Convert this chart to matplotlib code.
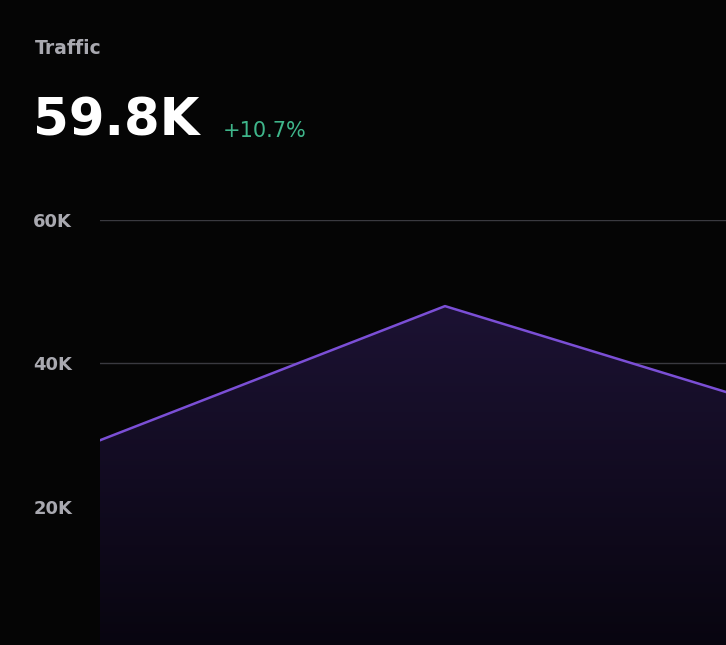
import matplotlib.pyplot as plt
import numpy as np
from matplotlib.patches import Polygon
from matplotlib.colors import LinearSegmentedColormap

x = [0, 1, 2]
traffic = [29300, 48000, 33300]
yticks = [0, 20000, 40000, 60000]
ytick_labels = ["0", "20K", "40K", "60K"]

W, H = 726, 645
fig = plt.figure(figsize=(W / 100, H / 100), dpi=100)
fig.patch.set_facecolor("#050505")

ax = fig.add_axes([100 / W, -5.5 / H, 690 / W, 430.5 / H])
ax.set_facecolor("#050505")
ax.set_xlim(0, 2)
ax.set_ylim(0, 60000)
ax.set_yticks(yticks)
ax.set_yticklabels(ytick_labels, color="#a9a9b0", fontsize=13, fontweight="semibold")
ax.tick_params(axis="y", length=0, pad=20)
ax.set_xticks([])
for s in ax.spines.values():
    s.set_visible(False)
ax.grid(axis="y", color="#3a3a40", linewidth=1)
ax.set_axisbelow(True)

# gradient fill under the line
grad = np.linspace(0, 1, 256).reshape(-1, 1)
cmap = LinearSegmentedColormap.from_list("g", ["#08050f", "#1c1233"])
im = ax.imshow(grad, extent=[0, 2, 0, 48000], origin="lower", aspect="auto",
               cmap=cmap, zorder=1)
poly = Polygon(list(zip(x, traffic)) + [(2, 0), (0, 0)], closed=True,
               facecolor="none", edgecolor="none")
ax.add_patch(poly)
im.set_clip_path(poly)
ax.plot(x, traffic, color="#7b4fd6", linewidth=1.8, zorder=3)

fig.text(35 / W, 1 - 48 / H, "Traffic", color="#a9a9b0", fontsize=13.5, va="center",
         fontweight="semibold")
fig.text(33 / W, 1 - 122 / H, "59.8K", color="white", fontsize=37, va="center",
         fontweight="semibold")
fig.text(223 / W, 1 - 131 / H, "+10.7%", color="#3fb68b", fontsize=15, va="center")

fig.savefig("out.png", dpi=100, facecolor=fig.get_facecolor())
